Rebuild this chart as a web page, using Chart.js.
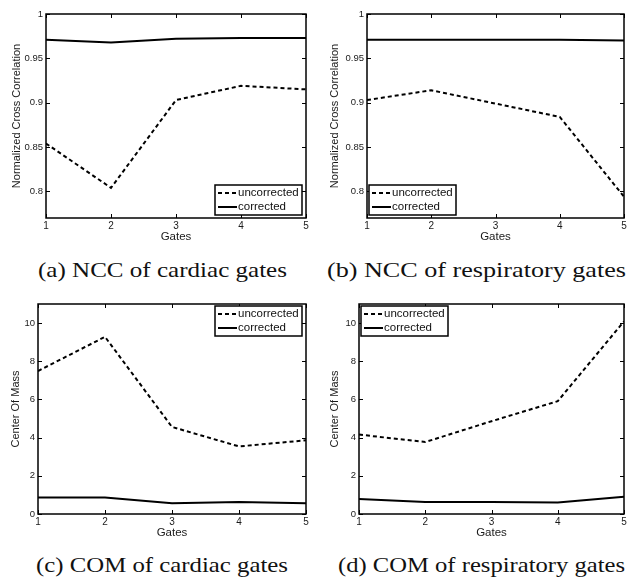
<!DOCTYPE html>
<html>
<head>
<meta charset="utf-8">
<script src="https://cdn.jsdelivr.net/npm/chart.js@4"></script>
<style>
  body { margin: 0; background: #fff; width: 629px; height: 578px; position: relative; overflow: hidden; }
  canvas { position: absolute; }
  .cap { position: absolute; font-family: "Liberation Serif", "Times New Roman", serif; font-size: 21px; line-height: 21px; color: #111; white-space: nowrap; transform-origin: 0 0; }
</style>
</head>
<body>
<canvas id="ca"></canvas>
<canvas id="cb"></canvas>
<canvas id="cc"></canvas>
<canvas id="cd"></canvas>
<div class="cap" id="capa" data-x="38" data-w="249" style="top:260px;">(a) NCC of cardiac gates</div>
<div class="cap" id="capb" data-x="327" data-w="299" style="top:260px;">(b) NCC of respiratory gates</div>
<div class="cap" id="capc" data-x="36" data-w="252" style="top:555px;">(c) COM of cardiac gates</div>
<div class="cap" id="capd" data-x="338" data-w="287" style="top:555px;">(d) COM of respiratory gates</div>
<script>
const gates = [1, 2, 3, 4, 5];
const seriesNames = ["uncorrected", "corrected"];

// (a) NCC of cardiac gates
const nccCardiacUncorrected = [0.854, 0.804, 0.903, 0.919, 0.915];
const nccCardiacCorrected = [0.971, 0.968, 0.972, 0.973, 0.973];
// (b) NCC of respiratory gates
const nccRespUncorrected = [0.903, 0.914, 0.899, 0.884, 0.794];
const nccRespCorrected = [0.971, 0.971, 0.971, 0.971, 0.970];
// (c) COM of cardiac gates
const comCardiacUncorrected = [7.49, 9.28, 4.56, 3.54, 3.86];
const comCardiacCorrected = [0.86, 0.86, 0.56, 0.63, 0.56];
// (d) COM of respiratory gates
const comRespUncorrected = [4.16, 3.77, 4.86, 5.91, 10.09];
const comRespCorrected = [0.79, 0.63, 0.63, 0.60, 0.91];

const nccTicks = [0.8, 0.85, 0.9, 0.95, 1];
const comTicks = [0, 2, 4, 6, 8, 10];

const AXIS_FONT = "'Liberation Sans', Arial, sans-serif";

// stretch the serif captions to the width of the latex captions
document.querySelectorAll(".cap").forEach(el => {
  const w = el.getBoundingClientRect().width;
  el.style.left = el.dataset.x + "px";
  el.style.transform = "scaleX(" + (el.dataset.w / w) + ")";
});

// matlab style box + inward ticks + legend inside axes
const boxPlugin = {
  id: "matlabBox",
  afterDatasetsDraw(chart) {
    const { ctx, chartArea: a, scales } = chart;
    ctx.save();
    ctx.strokeStyle = "#000";
    ctx.lineWidth = 1;
    ctx.beginPath();
    scales.x.ticks.forEach(t => {
      const px = Math.round(scales.x.getPixelForValue(t.value)) + 0.5;
      ctx.moveTo(px, a.bottom); ctx.lineTo(px, a.bottom - 4);
      ctx.moveTo(px, a.top); ctx.lineTo(px, a.top + 4);
    });
    scales.y.ticks.forEach(t => {
      const py = Math.round(scales.y.getPixelForValue(t.value)) + 0.5;
      ctx.moveTo(a.left, py); ctx.lineTo(a.left + 4, py);
      ctx.moveTo(a.right, py); ctx.lineTo(a.right - 4, py);
    });
    ctx.stroke();
    ctx.lineWidth = 1.5;
    ctx.strokeRect(a.left, a.top, a.right - a.left, a.bottom - a.top);

    const pos = chart.options.plugins.matlabBox.corner;
    const w = 87, h = 30;
    const x0 = pos.includes("r") ? a.right - w - 4 : a.left + 2;
    const y0 = pos.includes("b") ? a.bottom - h - 3 : a.top + 2;
    ctx.fillStyle = "#fff";
    ctx.fillRect(x0, y0, w, h);
    ctx.lineWidth = 1.5;
    ctx.strokeRect(x0, y0, w, h);
    ctx.font = "11.5px " + AXIS_FONT;
    ctx.textBaseline = "middle";
    chart.data.datasets.forEach((ds, i) => {
      const yy = y0 + 8 + i * 14;
      ctx.beginPath();
      ctx.lineWidth = ds.borderWidth;
      ctx.setLineDash(ds.borderDash || []);
      ctx.moveTo(x0 + 3, yy); ctx.lineTo(x0 + 22, yy);
      ctx.stroke();
      ctx.setLineDash([]);
      ctx.fillStyle = "#111";
      ctx.fillText(ds.label, x0 + 23, yy);
    });
    ctx.restore();
  }
};

function makeChart(id, canvasRect, area, yTitle, yMin, yMax, yTicks, unc, cor, corner, titleX) {
  const el = document.getElementById(id);
  el.style.left = canvasRect[0] + "px";
  el.style.top = canvasRect[1] + "px";
  el.width = canvasRect[2];
  el.height = canvasRect[3];
  const padLeft = titleX - 6.6 - canvasRect[0];
  const yWidth = area.left - canvasRect[0] - padLeft;
  const xHeight = 26;
  const padBottom = canvasRect[1] + canvasRect[3] - area.bottom - xHeight;
  return new Chart(el, {
    type: "line",
    data: {
      datasets: [
        { label: seriesNames[0], data: gates.map((g, i) => ({ x: g, y: unc[i] })),
          borderColor: "#000", borderWidth: 2, borderDash: [4, 3], pointRadius: 0, tension: 0 },
        { label: seriesNames[1], data: gates.map((g, i) => ({ x: g, y: cor[i] })),
          borderColor: "#000", borderWidth: 2, pointRadius: 0, tension: 0 }
      ]
    },
    options: {
      responsive: false,
      animation: false,
      layout: {
        padding: {
          top: area.top - canvasRect[1],
          right: canvasRect[0] + canvasRect[2] - area.right,
          left: padLeft,
          bottom: padBottom
        }
      },
      plugins: {
        legend: { display: false },
        tooltip: { enabled: false },
        matlabBox: { corner: corner }
      },
      scales: {
        x: {
          type: "linear", min: 1, max: 5,
          grid: { display: false, drawTicks: false },
          border: { display: false },
          ticks: { stepSize: 1, padding: 2, color: "#1a1a1a", font: { family: AXIS_FONT, size: 10 }, maxRotation: 0 },
          title: { display: true, text: "Gates", color: "#1a1a1a", padding: 0, font: { family: AXIS_FONT, size: 11.5 } },
          afterFit: s => { s.height = xHeight; }
        },
        y: {
          min: yMin, max: yMax,
          grid: { display: false, drawTicks: false },
          border: { display: false },
          afterBuildTicks: s => { s.ticks = yTicks.map(v => ({ value: v })); },
          ticks: { padding: 3, color: "#1a1a1a", font: { family: AXIS_FONT, size: 9.5 },
                   callback: v => String(Math.round(v * 100) / 100) },
          title: { display: true, text: yTitle, color: "#1a1a1a", padding: 0, font: { family: AXIS_FONT, size: 11 } },
          afterFit: s => { s.width = yWidth; }
        }
      }
    },
    plugins: [boxPlugin]
  });
}

makeChart("ca", [0, 0, 314, 250], { left: 46, top: 14, right: 306, bottom: 218 },
  "Normalized Cross Correlation", 0.77, 1, nccTicks, nccCardiacUncorrected, nccCardiacCorrected, "br", 17);
makeChart("cb", [314, 0, 315, 250], { left: 367, top: 14, right: 624, bottom: 218 },
  "Normalized Cross Correlation", 0.77, 1, nccTicks, nccRespUncorrected, nccRespCorrected, "bl", 335);
makeChart("cc", [0, 290, 314, 250], { left: 38, top: 304, right: 306, bottom: 514 },
  "Center Of Mass", 0, 11, comTicks, comCardiacUncorrected, comCardiacCorrected, "tr", 16);
makeChart("cd", [314, 290, 315, 250], { left: 359, top: 304, right: 624, bottom: 514 },
  "Center Of Mass", 0, 11, comTicks, comRespUncorrected, comRespCorrected, "tl", 335);
</script>
</body>
</html>
